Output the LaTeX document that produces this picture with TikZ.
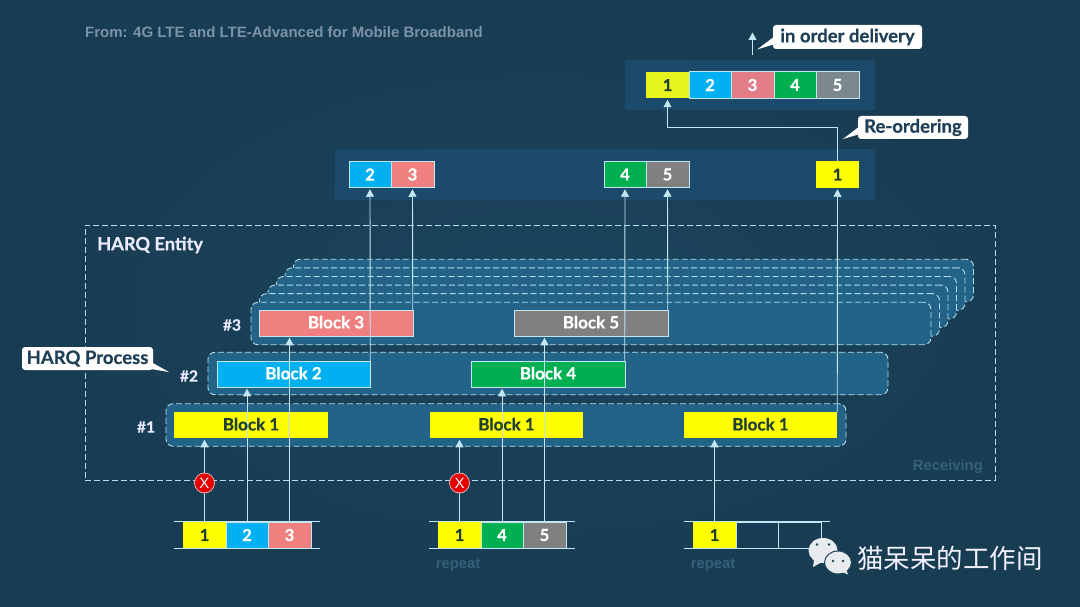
\documentclass[tikz,border=0pt]{standalone}
\usepackage{fontspec}
\setmainfont{Lato}[BoldFeatures={FakeBold=0.35}]
\newfontfamily\libfont{Liberation Sans}
\newfontfamily\cjkfont{Noto Sans CJK SC}
\usetikzlibrary{arrows.meta}
\definecolor{bgin}{HTML}{1B445C}
\definecolor{bgout}{HTML}{183C52}
\definecolor{panelc}{HTML}{1B4A6A}
\definecolor{procc}{HTML}{226387}
\definecolor{dashc}{HTML}{B4DCEB}
\definecolor{linec}{HTML}{C4E6F2}
\definecolor{inkc}{HTML}{1F3F57}
\definecolor{darkink}{HTML}{1F4030}
\definecolor{yel}{HTML}{FFFF00}
\definecolor{yelb}{HTML}{E8F41E}
\definecolor{blu}{HTML}{00B0F0}
\definecolor{pnk}{HTML}{F08080}
\definecolor{pnkb}{HTML}{E37E86}
\definecolor{grn}{HTML}{00B050}
\definecolor{gry}{HTML}{808080}
\definecolor{gryb}{HTML}{7B888E}
\definecolor{faintc}{HTML}{35607A}
\definecolor{titlec}{HTML}{7A93A6}
\definecolor{bubblec}{HTML}{E8ECEF}
\tikzset{
  panelbox/.style={fill=panelc,draw=none,inner sep=0pt,outer sep=0pt},
  dashbox/.style={draw=dashc,line width=0.9pt,dash pattern=on 6pt off 3pt},
  procbox/.style={dashbox,fill=procc,rounded corners=7pt,inner sep=0pt,outer sep=0pt,minimum height=42.5pt,minimum width=680pt},
  cellbox/.style={minimum width=42.5pt,minimum height=26.5pt,inner sep=0pt,outer sep=0pt,font=\bfseries\fontsize{16.5}{16.5}\selectfont,text=white,draw=linec,line width=0.5pt},
  darkcell/.style={cellbox,text=darkink,draw=none},
  blockbox/.style={minimum width=153.5pt,minimum height=26.5pt,inner sep=0pt,outer sep=0pt,draw=linec,line width=0.5pt},
  blocktext/.style={inner sep=0pt,font=\bfseries\fontsize{17}{17}\selectfont,text=white},
  arrowline/.style={draw=linec,line width=0.9pt,-{Triangle[width=8pt,length=7.5pt]},shorten >=1.5pt},
  railline/.style={draw=linec,line width=0.8pt},
  callout/.style={fill=white,rounded corners=3pt,inner sep=0pt,outer sep=0pt,text=inkc,font=\bfseries\fontsize{18.5}{18.5}\selectfont},
  numlabel/.style={text=white!92!blue,font=\bfseries\fontsize{15.5}{15.5}\selectfont,inner sep=0pt},
  xmark/.style={circle,fill=red!90!black,draw=white!85!red,line width=0.6pt,minimum size=20pt,inner sep=0pt,text=white,font=\libfont\fontsize{15}{15}\selectfont},
  fainttext/.style={text=faintc,font=\libfont\bfseries\fontsize{14.8}{14.8}\selectfont,inner sep=0pt},
}
\begin{document}
\begin{tikzpicture}[x=1pt,y=-1pt]
\useasboundingbox (0,0) rectangle (1080,607);
\shade[inner color=bgin,outer color=bgout] (0,0) rectangle (1080,607);

% title
\node[anchor=west,inner sep=0pt,text=titlec,font=\libfont\bfseries\fontsize{15}{15}\selectfont] (title) at (85,32) {From: 4G LTE and LTE-Advanced for Mobile Broadband};

% panels
\node[panelbox,minimum width=250pt,minimum height=50pt] (ptop) at (750,85) {};
\node[panelbox,minimum width=540pt,minimum height=51pt] (pmid) at (605,174.5) {};

% HARQ entity
\node[dashbox,minimum width=910pt,minimum height=255pt,inner sep=0pt,outer sep=0pt] (entity) at (540,352.5) {};
\node[anchor=west,inner sep=0pt,text=white!92!blue,font=\bfseries\fontsize{18.2}{18.2}\selectfont] (entitylabel) at (97,245) {HARQ Entity};
\node[fainttext,anchor=east] (receiving) at (983,467) {Receiving};

% stacked processes
\foreach \k/\nm in {5/e,4/d,3/c,2/b,1/a}{
  \node[procbox] (stack\nm) at ({591+8.5*\k},{323.5-8.6*\k}) {};
}
\node[procbox] (proc3) at (591,323.5) {};
\node[procbox] (proc2) at (548,373.5) {};
\node[procbox] (proc1) at (506,425) {};
\node[numlabel] (n3) at (232,325) {\#3};
\node[numlabel] (n2) at (189,376) {\#2};
\node[numlabel] (n1) at (146,427) {\#1};

% blocks (boxes)
\node[blockbox,fill=yel,draw=none] (b1a) at (251,425) {};
\node[blockbox,fill=yel,draw=none] (b1b) at (506.5,425) {};
\node[blockbox,fill=yel,draw=none] (b1c) at (760.5,425) {};
\node[blockbox,fill=blu] (b2) at (293.5,374) {};
\node[blockbox,fill=grn] (b4) at (548,374) {};
\node[blockbox,fill=pnk] (b3) at (336,323) {};
\node[blockbox,fill=gry] (b5) at (591,323) {};

% top row
\node[cellbox,fill=yelb,text=darkink,draw=none] (t1) at (667.5,85) {1};
\node[cellbox,fill=blu] (t2) at (710,85) {2};
\node[cellbox,fill=pnkb] (t3) at (752.5,85) {3};
\node[cellbox,fill=grn] (t4) at (795,85) {4};
\node[cellbox,fill=gryb] (t5) at (837.5,85) {5};

% middle row
\node[cellbox,fill=blu] (m2) at (370,174.5) {2};
\node[cellbox,fill=pnk] (m3) at (412.5,174.5) {3};
\node[cellbox,fill=grn] (m4) at (625,174.5) {4};
\node[cellbox,fill=gry] (m5) at (667.5,174.5) {5};
\node[darkcell,fill=yel] (m1) at (837.5,174.5) {1};

% bottom rows
\node[darkcell,fill=yel] (a1) at (204.5,535) {1};
\node[cellbox,fill=blu] (a2) at (247,535) {2};
\node[cellbox,fill=pnk] (a3) at (289.5,535) {3};
\node[darkcell,fill=yel] (c1) at (459.5,535) {1};
\node[cellbox,fill=grn] (c2) at (502,535) {4};
\node[cellbox,fill=gry] (c3) at (544.5,535) {5};
\node[darkcell,fill=yel] (d1) at (714.5,535) {1};
\node[cellbox] (d2) at (757,535) {};
\node[cellbox] (d3) at (799.5,535) {};
\foreach \l/\r in {a1/a3,c1/c3,d1/d3}{
  \draw[railline] ([xshift=-9pt]\l.north west) -- ([xshift=9pt]\r.north east);
  \draw[railline] ([xshift=-9pt]\l.south west) -- ([xshift=9pt]\r.south east);
}
\node[fainttext] (rep1) at (458,565) {repeat};
\node[fainttext] (rep2) at (713,565) {repeat};

% connectors
\draw[arrowline] (a1.north) -- (a1.north |- b1a.south);
\draw[arrowline] (a2.north) -- (a2.north |- b2.south);
\draw[arrowline] (a3.north) -- (a3.north |- b3.south);
\draw[arrowline] (c1.north) -- (c1.north |- b1b.south);
\draw[arrowline] (c2.north) -- (c2.north |- b4.south);
\draw[arrowline] (c3.north) -- (c3.north |- b5.south);
\draw[arrowline] (d1.north) -- (d1.north |- b1c.south);
\draw[arrowline] (b2.north east) -- (m2.south);
\draw[arrowline] (b3.north east) -- (m3.south);
\draw[arrowline] (b4.north east) -- (m4.south);
\draw[arrowline] (b5.north east) -- (m5.south);
\draw[arrowline] (b1c.north east) -- (m1.south);
\draw[arrowline] (m1.north) -- ++(0,-34) -| (t1.south);
\coordinate (outa) at (752.5,55);
\coordinate (outb) at (752.5,31);
\draw[arrowline] (outa) -- (outb);

% block labels
\node[blocktext,text=darkink] (lb1a) at ([yshift=0.8pt]b1a.center) {Block 1};
\node[blocktext,text=darkink] (lb1b) at ([yshift=0.8pt]b1b.center) {Block 1};
\node[blocktext,text=darkink] (lb1c) at ([yshift=0.8pt]b1c.center) {Block 1};
\node[blocktext] (lb2) at ([yshift=0.8pt]b2.center) {Block 2};
\node[blocktext] (lb4) at ([yshift=0.8pt]b4.center) {Block 4};
\node[blocktext] (lb3) at ([yshift=0.8pt]b3.center) {Block 3};
\node[blocktext] (lb5) at ([yshift=0.8pt]b5.center) {Block 5};

% failure marks
\node[xmark] (x1) at (204.5,483) {X};
\node[xmark] (x2) at (459.5,483) {X};

% callouts
\fill[white] (757,49.5) -- (775,44) -- (775,36) -- cycle;
\node[callout,minimum width=149pt,minimum height=24pt] (cdeliv) at (847.5,37) {in order delivery};
\fill[white] (843,139) -- (860,134) -- (860,126) -- cycle;
\node[callout,minimum width=110pt,minimum height=23pt] (creord) at (913,127.5) {Re-ordering};
\fill[white] (169,372) -- (151,362) -- (151,369) -- cycle;
\node[callout,minimum width=131pt,minimum height=23pt] (charq) at (87.5,358.5) {HARQ Process};

% WeChat mark
\fill[bubblec] (823,550.5) ellipse (14.5pt and 12.5pt);
\fill[bubblec] (814,560) -- (813,567) -- (822,562) -- cycle;
\fill[bgin] (817,544.5) circle (1.4pt) (829,544.5) circle (1.4pt);
\draw[bgin,line width=1pt,fill=bubblec] (838,562.5) ellipse (13.5pt and 11.5pt);
\fill[bubblec] (842,572) -- (848,574.5) -- (846,569) -- cycle;
\fill[bgin] (833,561) circle (1.3pt) (843,561) circle (1.3pt);
\node[anchor=west,inner sep=0pt,text=white!95!blue,font=\cjkfont\fontsize{26.5}{26.5}\selectfont] (brand) at (857,558) {猫呆呆的工作间};
\end{tikzpicture}
\end{document}
